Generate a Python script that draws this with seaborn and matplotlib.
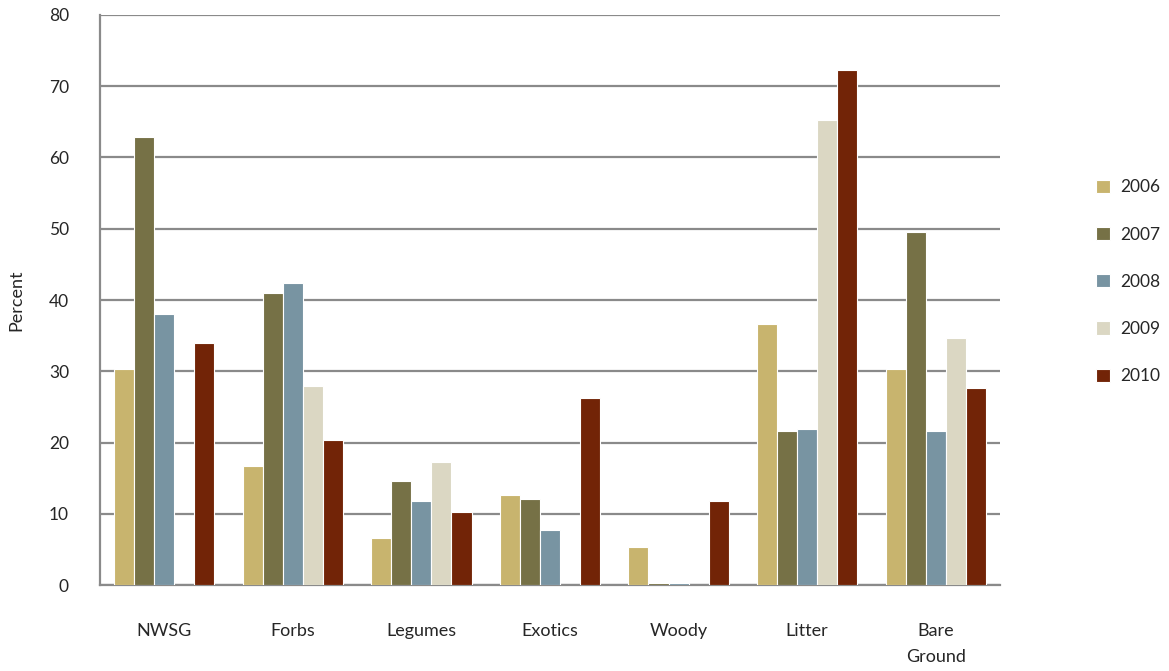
import numpy as np
import pandas as pd
import matplotlib
matplotlib.use("Agg")
import matplotlib.pyplot as plt
import seaborn as sns

categories = ["NWSG", "Forbs", "Legumes", "Exotics", "Woody", "Litter", "Bare\nGround"]
years = ["2006", "2007", "2008", "2009", "2010"]

# Percent cover by category for each survey year (NaN = not recorded)
pct_2006 = [30.3, 16.7, 6.6, 12.6, 5.3, 36.6, 30.3]
pct_2007 = [62.8, 41.0, 14.6, 12.1, 0.3, 21.6, 49.6]
pct_2008 = [38.0, 42.4, 11.8, 7.7, 0.3, 21.9, 21.6]
pct_2009 = [np.nan, 27.9, 17.3, np.nan, np.nan, 65.2, 34.7]
pct_2010 = [33.9, 20.3, 10.2, 26.2, 11.8, 72.3, 27.6]

palette = ["#C8B46E", "#767146", "#7894A2", "#DBD7C3", "#722407"]

series = [pct_2006, pct_2007, pct_2008, pct_2009, pct_2010]
rows = []
for yr, vals in zip(years, series):
    for cat, v in zip(categories, vals):
        if not np.isnan(v):
            rows.append({"Category": cat, "Year": yr, "Percent": v})
df = pd.DataFrame(rows)

sns.set_style("white")
plt.rcParams["font.family"] = ["Lato", "DejaVu Sans"]

fig = plt.figure(figsize=(11.69, 6.71), dpi=100)
ax = fig.add_axes([0.0855, 0.128, 0.7699, 0.8498])

sns.barplot(data=df, x="Category", y="Percent", hue="Year",
            order=categories, hue_order=years, palette=palette,
            width=0.78, errorbar=None, edgecolor="white", linewidth=0.8,
            saturation=1, ax=ax, zorder=3)

ax.set_ylim(0, 80)
ax.set_yticks(range(0, 81, 10))
ax.set_xlim(-0.5, len(categories) - 0.5)
ax.yaxis.grid(True, color="#8a8a8a", linewidth=1.6, zorder=0)
ax.set_axisbelow(True)
for side in ["top", "right"]:
    ax.spines[side].set_visible(False)
for side in ["left", "bottom"]:
    ax.spines[side].set_color("#8a8a8a")
    ax.spines[side].set_linewidth(1.6)

ax.tick_params(axis="y", which="major", direction="out", length=5.8,
               width=1.6, color="#8a8a8a", labelsize=12.5, pad=16.5)
ax.tick_params(axis="x", length=0, labelsize=13, pad=27)
for lbl in ax.get_xticklabels():
    lbl.set_verticalalignment("top")
    lbl.set_linespacing(1.8)
ax.set_xlabel("")
ax.set_ylabel("Percent", fontsize=13)
ax.yaxis.set_label_coords(-0.0845, 0.5)

handles, labels = ax.get_legend_handles_labels()
if ax.legend_:
    ax.legend_.remove()
fig.legend(handles, labels, loc="center left", bbox_to_anchor=(0.932, 0.580),
           frameon=False, fontsize=12.5, handlelength=0.8, handleheight=0.8,
           handletextpad=0.55, labelspacing=1.8, borderaxespad=0)

fig.savefig("out.png", dpi=100)
